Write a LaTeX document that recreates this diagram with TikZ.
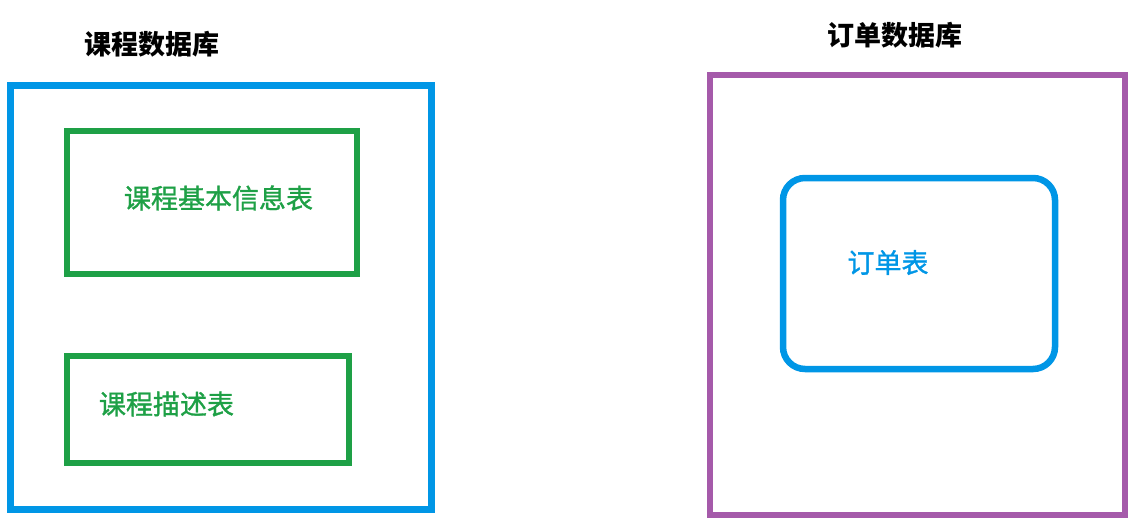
\documentclass[tikz,border=0pt]{standalone}
\usepackage{fontspec}
\newfontfamily\cjk{Noto Sans CJK SC}
\newfontfamily\cjkmed[FakeBold=1.2]{Noto Sans CJK SC}
\usepackage{tikz}
\usetikzlibrary{positioning}

\definecolor{dbblue}{RGB}{0,150,230}
\definecolor{tblgreen}{RGB}{30,160,70}
\definecolor{dbpurple}{RGB}{165,90,170}

\begin{document}
\begin{tikzpicture}[
    x=1pt, y=-1pt,
    dbbox/.style={draw, rectangle, inner sep=0pt, outer sep=0pt, line width=7pt},
    tblbox/.style={draw, rectangle, inner sep=0pt, outer sep=0pt, line width=6.5pt},
    title/.style={font=\cjk\fontsize{27}{30}\selectfont\bfseries, inner sep=0pt},
    label/.style={font=\cjkmed\fontsize{27}{30}\selectfont, inner sep=0pt}
]
    \useasboundingbox (0, 0) rectangle (1132, 520);

    % === Course database ===
    \node[title] (coursetitle) at (151.5, 44) {课程数据库};
    \node[dbbox, dbblue, minimum width=421pt, minimum height=424pt] (coursedb) at (221, 297.5) {};

    % Tables
    \node[tblbox, tblgreen, minimum width=290pt, minimum height=143pt] (basicbox) at (212, 202.5) {};
    \node[label, tblgreen] (basic) at (218.5, 198) {课程基本信息表};

    \node[tblbox, tblgreen, minimum width=282pt, minimum height=107pt] (descbox) at (208, 409.5) {};
    \node[label, tblgreen] (desc) at (166.5, 404) {课程描述表};

    % === Order database ===
    \node[title] (ordertitle) at (895, 35) {订单数据库};
    \node[dbbox, dbpurple, line width=6pt, minimum width=415pt, minimum height=440pt] (orderdb) at (917.5, 295) {};

    % Table
    \node[tblbox, dbblue, rounded corners=22pt, minimum width=272pt, minimum height=191pt] (orderbox) at (919, 273.5) {};
    \node[label, dbblue] (order) at (888, 262.5) {订单表};

\end{tikzpicture}
\end{document}
